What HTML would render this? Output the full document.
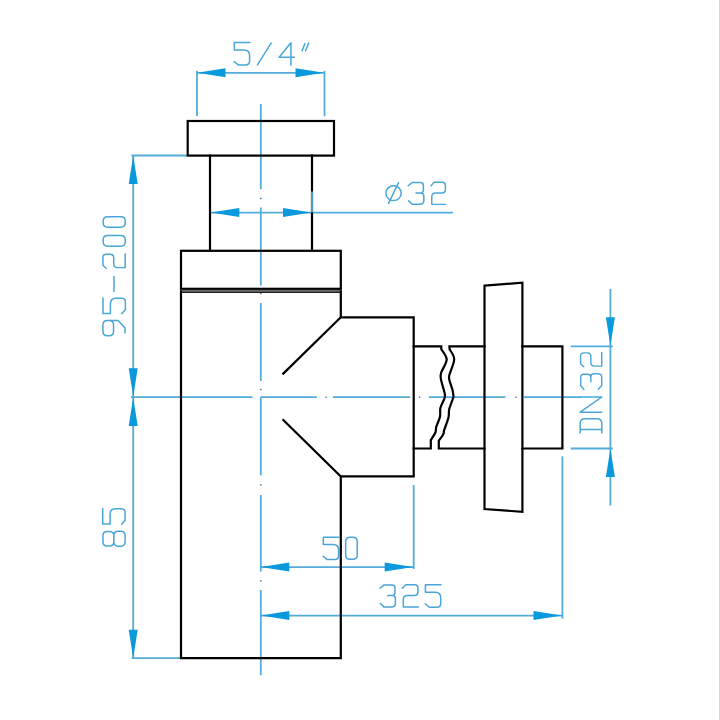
<!DOCTYPE html>
<html><head><meta charset="utf-8"><title>Bottle trap drawing</title>
<style>html,body{margin:0;padding:0;background:#fff;width:720px;height:720px;overflow:hidden;font-family:"Liberation Sans",sans-serif;}svg{display:block;}</style>
</head><body>
<svg width="720" height="720" viewBox="0 0 720 720">
<rect width="720" height="720" fill="#fff"/>
<rect x="719" y="0" width="1" height="720" fill="#c2e6c2"/>
<g stroke="#55abd9" stroke-width="1.8" fill="none">
<line x1="197" y1="72.8" x2="324" y2="72.8"/>
<line x1="197" y1="70.8" x2="197" y2="116"/>
<line x1="324.5" y1="70.8" x2="324.5" y2="116.2"/>
<line x1="210.5" y1="212.6" x2="453" y2="212.6"/>
<line x1="312" y1="191.5" x2="312" y2="212.6"/>
<line x1="133.2" y1="155.4" x2="133.2" y2="658.2"/>
<line x1="131.4" y1="155.5" x2="187" y2="155.5"/>
<line x1="131.8" y1="658.2" x2="181" y2="658.2"/>
<line x1="260.8" y1="567.1" x2="413.7" y2="567.1"/>
<line x1="413.7" y1="485" x2="413.7" y2="568.9"/>
<line x1="260.8" y1="615.6" x2="562.4" y2="615.6"/>
<line x1="562.4" y1="456.3" x2="562.4" y2="618.6"/>
<line x1="570.8" y1="346.3" x2="612.8" y2="346.3"/>
<line x1="570.8" y1="448.5" x2="612.8" y2="448.5"/>
<line x1="610.4" y1="288.9" x2="610.4" y2="505.6"/>
<line x1="260.8" y1="103.9" x2="260.8" y2="189.2"/>
<line x1="260.8" y1="207.5" x2="260.8" y2="285.6"/>
<line x1="260.8" y1="303" x2="260.8" y2="381"/>
<line x1="260.8" y1="397.4" x2="260.8" y2="475.4"/>
<line x1="260.8" y1="495" x2="260.8" y2="571.7"/>
<line x1="260.8" y1="590" x2="260.8" y2="675.2"/>
<line x1="131.0" y1="397.2" x2="252.5" y2="397.2"/>
<line x1="260.4" y1="397.2" x2="316.7" y2="397.2"/>
<line x1="333" y1="397.2" x2="410" y2="397.2"/>
<line x1="428.9" y1="397.2" x2="505.4" y2="397.2"/>
<line x1="524" y1="397.2" x2="581" y2="397.2"/>
</g>
<g fill="#0b99dd">
<polygon points="197.0,72.8 225.5,68.3 225.5,77.3"/>
<polygon points="324.0,72.8 295.5,68.3 295.5,77.3"/>
<polygon points="210.8,212.6 239.3,208.1 239.3,217.1"/>
<polygon points="311.5,212.6 283.0,208.1 283.0,217.1"/>
<polygon points="133.2,155.5 128.7,184.0 137.7,184.0"/>
<polygon points="133.2,396.8 128.7,368.3 137.7,368.3"/>
<polygon points="133.2,397.6 128.7,426.1 137.7,426.1"/>
<polygon points="133.2,658.2 128.7,629.7 137.7,629.7"/>
<polygon points="260.8,567.1 289.3,562.6 289.3,571.6"/>
<polygon points="413.2,567.1 384.7,562.6 384.7,571.6"/>
<polygon points="260.8,615.6 289.3,611.1 289.3,620.1"/>
<polygon points="562.0,615.6 533.5,611.1 533.5,620.1"/>
<polygon points="610.4,345.8 605.9,317.3 614.9,317.3"/>
<polygon points="610.4,448.6 605.9,477.1 614.9,477.1"/>
</g>
<g fill="#3d7fa8">
<rect x="260.0" y="197.8" width="1.6" height="1.4"/>
<rect x="260.0" y="292.90000000000003" width="1.6" height="1.4"/>
<rect x="260.0" y="388.8" width="1.6" height="1.4"/>
<rect x="260.0" y="484.3" width="1.6" height="1.4"/>
<rect x="260.0" y="580.3" width="1.6" height="1.4"/>
<rect x="325.3" y="396.5" width="1.4" height="1.4"/>
<rect x="418.8" y="396.5" width="1.4" height="1.4"/>
<rect x="515.0999999999999" y="396.5" width="1.4" height="1.4"/>
</g>
<g fill="none" stroke="#4aa5d8" stroke-width="1.5" stroke-linejoin="round" stroke-linecap="round">
<path transform="translate(233.6,42.0)" d="M16.30,0.50 L0.70,0.50 L0.70,7.90 L10.50,7.90 Q16.00,7.90 16.00,13.40 L16.00,19.10 Q16.00,22.90 12.20,22.90 L4.60,22.90 L0.60,19.50"/>
<path transform="translate(256.7,42.3)" d="M0.7,22.5 L14.4,0.8"/>
<path transform="translate(278.9,42.2)" d="M12,0.5 L0.3,15.1 L15.5,15.1 M12,0.5 L12,23.0"/>
<path transform="translate(301.6,42.5)" d="M0.5,8.2 L3.3,1.1 M4.0,8.2 L7.1,0.6"/>
<path transform="translate(385.2,181.9)" d="M16.0,11.25 A7.65,7.45 0 1,1 0.7,11.25 A7.65,7.45 0 1,1 16.0,11.25 Z M3.3,21.5 L13.4,0.7"/>
<path transform="translate(408.1,181.9) scale(1.02,0.98)" d="M0.10,4.00 L4.00,0.60 L12.00,0.60 Q15.00,0.60 15.00,3.60 L15.00,7.90 Q15.00,11.30 11.60,11.30 L7.70,11.30 M12.00,11.30 L12.34,11.30 Q15.40,11.30 15.40,14.36 L15.40,19.00 Q15.40,22.80 11.60,22.80 L4.00,22.80 L0.40,19.20"/>
<path transform="translate(430.0,181.8) scale(0.93,0.99)" d="M1.00,3.90 L4.40,0.50 L13.10,0.50 Q16.60,0.50 16.60,4.00 L16.60,7.50 Q16.60,11.30 12.80,11.30 L5.90,11.30 Q1.90,11.30 1.90,15.30 L1.90,22.80 L17.00,22.80"/>
<path transform="translate(322.6,536.7)" d="M16.30,0.50 L0.70,0.50 L0.70,7.90 L10.50,7.90 Q16.00,7.90 16.00,13.40 L16.00,19.10 Q16.00,22.90 12.20,22.90 L4.60,22.90 L0.60,19.50"/>
<path transform="translate(344.9,536.4)" d="M0.75,5.35 Q0.75,0.75 5.35,0.75 L7.75,0.75 Q12.35,0.75 12.35,5.35 L12.35,18.25 Q12.35,22.85 7.75,22.85 L5.35,22.85 Q0.75,22.85 0.75,18.25 Z"/>
<path transform="translate(380.0,584.3)" d="M0.10,4.00 L4.00,0.60 L12.00,0.60 Q15.00,0.60 15.00,3.60 L15.00,7.90 Q15.00,11.30 11.60,11.30 L7.70,11.30 M12.00,11.30 L12.34,11.30 Q15.40,11.30 15.40,14.36 L15.40,19.00 Q15.40,22.80 11.60,22.80 L4.00,22.80 L0.40,19.20"/>
<path transform="translate(401.4,584.3)" d="M1.00,3.90 L4.40,0.50 L13.10,0.50 Q16.60,0.50 16.60,4.00 L16.60,7.50 Q16.60,11.30 12.80,11.30 L5.90,11.30 Q1.90,11.30 1.90,15.30 L1.90,22.80 L17.00,22.80"/>
<path transform="translate(424.7,584.3)" d="M16.30,0.50 L0.70,0.50 L0.70,7.90 L10.50,7.90 Q16.00,7.90 16.00,13.40 L16.00,19.10 Q16.00,22.90 12.20,22.90 L4.60,22.90 L0.60,19.50"/>
<path transform="translate(102.2,336.4) rotate(-90)" d="M0.75,5.25 Q0.75,0.75 5.25,0.75 L11.35,0.75 Q15.85,0.75 15.85,5.25 L15.85,6.85 Q15.85,11.35 11.35,11.35 L5.25,11.35 Q0.75,11.35 0.75,6.85 Z M15.85,8.00 L15.85,15.90 L8.30,22.85 L3.40,22.85"/>
<path transform="translate(102.5,314.2) rotate(-90)" d="M16.30,0.50 L0.70,0.50 L0.70,7.90 L10.50,7.90 Q16.00,7.90 16.00,13.40 L16.00,19.10 Q16.00,22.90 12.20,22.90 L4.60,22.90 L0.60,19.50"/>
<path transform="translate(102.4,291.4) rotate(-90)" d="M0,11.6 L15,11.6"/>
<path transform="translate(102.4,269.3) rotate(-90) scale(0.91,1)" d="M1.00,3.90 L4.40,0.50 L13.10,0.50 Q16.60,0.50 16.60,4.00 L16.60,7.50 Q16.60,11.30 12.80,11.30 L5.90,11.30 Q1.90,11.30 1.90,15.30 L1.90,22.80 L17.00,22.80"/>
<path transform="translate(102.4,246.9) rotate(-90)" d="M0.75,5.15 Q0.75,0.75 5.15,0.75 L6.90,0.75 Q11.30,0.75 11.30,5.15 L11.30,18.45 Q11.30,22.85 6.90,22.85 L5.15,22.85 Q0.75,22.85 0.75,18.45 Z"/>
<path transform="translate(102.4,228.0) rotate(-90)" d="M0.75,5.15 Q0.75,0.75 5.15,0.75 L6.90,0.75 Q11.30,0.75 11.30,5.15 L11.30,18.45 Q11.30,22.85 6.90,22.85 L5.15,22.85 Q0.75,22.85 0.75,18.45 Z"/>
<path transform="translate(102.2,547.0) rotate(-90)" d="M1.00,4.95 Q1.00,0.75 5.20,0.75 L11.20,0.75 Q15.40,0.75 15.40,4.95 L15.40,7.40 Q15.40,11.60 11.20,11.60 L5.20,11.60 Q1.00,11.60 1.00,7.40 Z M0.75,16.00 Q0.75,11.60 5.15,11.60 L11.25,11.60 Q15.65,11.60 15.65,16.00 L15.65,18.55 Q15.65,22.95 11.25,22.95 L5.15,22.95 Q0.75,22.95 0.75,18.55 Z"/>
<path transform="translate(102.2,524.8) rotate(-90)" d="M16.30,0.50 L0.70,0.50 L0.70,7.90 L10.50,7.90 Q16.00,7.90 16.00,13.40 L16.00,19.10 Q16.00,22.90 12.20,22.90 L4.60,22.90 L0.60,19.50"/>
<path transform="translate(579.5,433.4) rotate(-90)" d="M0.40,0.70 L9.80,0.70 Q14.60,0.70 14.60,5.50 L14.60,17.50 Q14.60,22.30 9.80,22.30 L0.40,22.30 M3.8,0.7 L3.8,22.3"/>
<path transform="translate(579.5,412.9) rotate(-90)" d="M0.7,22.3 L0.7,0.7 L15.9,22.3 L15.9,0.7"/>
<path transform="translate(580.1,389.6) rotate(-90) scale(1.03,0.95)" d="M0.10,4.00 L4.00,0.60 L12.00,0.60 Q15.00,0.60 15.00,3.60 L15.00,7.90 Q15.00,11.30 11.60,11.30 L7.70,11.30 M12.00,11.30 L12.34,11.30 Q15.40,11.30 15.40,14.36 L15.40,19.00 Q15.40,22.80 11.60,22.80 L4.00,22.80 L0.40,19.20"/>
<path transform="translate(580.1,367.8) rotate(-90) scale(0.9,0.95)" d="M1.00,3.90 L4.40,0.50 L13.10,0.50 Q16.60,0.50 16.60,4.00 L16.60,7.50 Q16.60,11.30 12.80,11.30 L5.90,11.30 Q1.90,11.30 1.90,15.30 L1.90,22.80 L17.00,22.80"/>
</g>
<rect x="180" y="289.8" width="161.8" height="1.8" fill="#646464"/>
<line x1="180" y1="292.2" x2="341.9" y2="292.2" stroke="#1e1e1e" stroke-width="1.6"/>
<g fill="none" stroke="#000" stroke-width="2.2" stroke-linejoin="miter" stroke-linecap="square">
<rect x="187.7" y="121" width="146.3" height="34.6"/>
<line x1="210" y1="155.6" x2="210" y2="250.8"/>
<line x1="312" y1="155.6" x2="312" y2="250.8"/>
<rect x="181" y="250.8" width="159.8" height="38.0"/>
<path d="M181,291.6 L181,658.2 L340.8,658.2 L340.8,476.4 L413.7,476.4 L413.7,317.3 L340.8,317.3 L340.8,291.6"/>
<line x1="340.8" y1="317.3" x2="283.3" y2="373.6"/>
<line x1="283.3" y1="420.0" x2="340.8" y2="476.4"/>
<path d="M413.7,346.3 L441.3,346.3 L441.3,349.2  C442.20,350.93 446.72,355.72 446.70,359.60 C446.68,363.48 442.18,369.38 441.20,372.50 C440.22,375.62 440.37,375.38 440.80,378.30 C441.23,381.22 443.10,387.22 443.80,390.00 C444.50,392.78 444.93,393.47 445.00,395.00 C445.07,396.53 444.97,397.05 444.20,399.20 C443.43,401.35 441.10,404.98 440.40,407.90 C439.70,410.82 440.68,413.57 440.00,416.70 C439.32,419.83 437.07,424.07 436.30,426.70 C435.53,429.33 436.32,430.28 435.40,432.50 C434.48,434.72 431.57,438.75 430.80,440.00 L430.8,448.5 L413.7,448.5"/>
<path d="M484.5,346.3 L449.4,346.3 L449.6,349.2  C450.37,350.87 454.20,355.03 454.20,359.20 C454.20,363.37 450.43,370.87 449.60,374.20 C448.77,377.53 448.72,376.57 449.20,379.20 C449.68,381.83 451.82,387.37 452.50,390.00 C453.18,392.63 453.17,393.75 453.30,395.00 C453.43,396.25 453.98,395.13 453.30,397.50 C452.62,399.87 450.00,405.87 449.20,409.20 C448.40,412.53 449.33,414.03 448.50,417.50 C447.67,420.97 445.07,427.22 444.20,430.00 C443.33,432.78 444.20,432.40 443.30,434.20 C442.40,436.00 439.55,439.70 438.80,440.80 L438.8,448.5 L484.5,448.5"/>
<path d="M522.4,346.3 L562.4,346.3 L562.4,448.5 L522.4,448.5"/>
<path d="M484.5,285.7 L522.4,282.6 L522.4,511.8 L484.5,509.0 Z"/>
</g>
<line x1="312" y1="191.5" x2="312" y2="212.6" stroke="#55abd9" stroke-width="1.8"/>
</svg>
</body></html>
